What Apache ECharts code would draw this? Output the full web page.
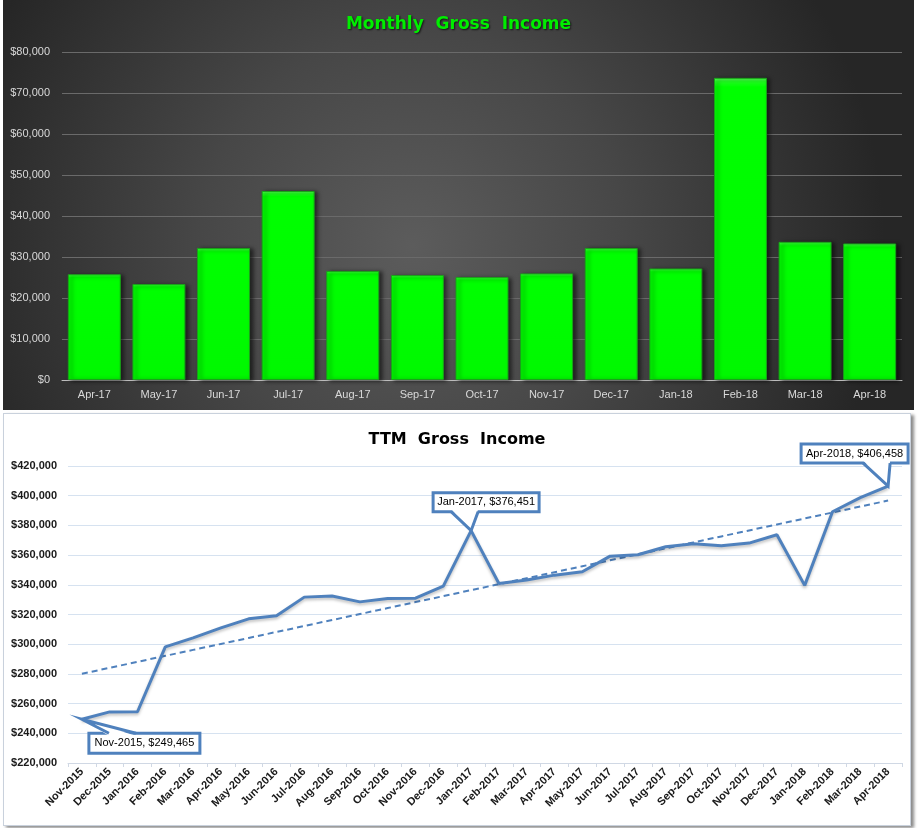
<!DOCTYPE html>
<html>
<head>
<meta charset="utf-8">
<script src="https://cdn.jsdelivr.net/npm/echarts@6/dist/echarts.min.js"></script>
<style>
  html, body { margin: 0; padding: 0; background: #ffffff; width: 921px; height: 828px; overflow: hidden; }
  #top { position: absolute; left: 3px; top: 0px; width: 911px; height: 410px; }
  #bottom { position: absolute; left: 3px; top: 413px; width: 906px; height: 411px; border: 1px solid #c9d1dc; box-shadow: 3px 2px 3px #8a8a8a; background: #fff; }
</style>
</head>
<body>
<div id="top"></div>
<div id="bottom"></div>
<script>
// ---------- Data: Monthly Gross Income ----------
const monthlyCategories = ['Apr-17','May-17','Jun-17','Jul-17','Aug-17','Sep-17','Oct-17','Nov-17','Dec-17','Jan-18','Feb-18','Mar-18','Apr-18'];
const monthlyValues = [25800, 23400, 32200, 46100, 26600, 25600, 25100, 26000, 32200, 27200, 73700, 33700, 33300];
const monthlyTicks = [0, 10000, 20000, 30000, 40000, 50000, 60000, 70000, 80000];

// ---------- Data: TTM Gross Income ----------
const ttmCategories = ['Nov-2015','Dec-2015','Jan-2016','Feb-2016','Mar-2016','Apr-2016','May-2016','Jun-2016','Jul-2016','Aug-2016','Sep-2016','Oct-2016','Nov-2016','Dec-2016','Jan-2017','Feb-2017','Mar-2017','Apr-2017','May-2017','Jun-2017','Jul-2017','Aug-2017','Sep-2017','Oct-2017','Nov-2017','Dec-2017','Jan-2018','Feb-2018','Mar-2018','Apr-2018'];
const ttmValues = [249465, 254400, 254500, 298200, 304300, 311000, 317100, 319100, 331700, 332400, 328500, 330800, 331000, 339100, 376451, 340900, 343200, 346500, 348800, 359300, 360200, 365600, 367600, 366300, 368100, 373700, 339600, 389200, 398700, 406458];
const ttmTicks = [220000, 240000, 260000, 280000, 300000, 320000, 340000, 360000, 380000, 400000, 420000];
const calloutMonths = ['Nov-2015', 'Jan-2017', 'Apr-2018'];

const money = v => '$' + Math.round(v).toLocaleString('en-US');

// Linear trendline (least squares) computed from the TTM data, like Excel's trendline
const n = ttmValues.length;
const mx = (n - 1) / 2;
const my = ttmValues.reduce((a, b) => a + b, 0) / n;
let sxy = 0, sxx = 0;
ttmValues.forEach((v, i) => { sxy += (i - mx) * (v - my); sxx += (i - mx) * (i - mx); });
const slope = sxy / sxx;
const intercept = my - slope * mx;
const trendValues = ttmValues.map((v, i) => intercept + slope * i);

// ---------- Top chart ----------
const topChart = echarts.init(document.getElementById('top'));
topChart.setOption({
  animation: false,
  backgroundColor: {
    type: 'radial', x: 0.45, y: 0.6, r: 1.15,
    colorStops: [{ offset: 0, color: '#5c5c5c' }, { offset: 0.45, color: '#474747' }, { offset: 1, color: '#262626' }]
  },
  title: {
    text: 'Monthly  Gross  Income',
    left: 'center', top: 11,
    textStyle: {
      fontFamily: 'DejaVu Sans', fontWeight: 'bold', fontSize: 17, color: '#00ee00',
      textShadowColor: 'rgba(0,0,0,0.7)', textShadowBlur: 2, textShadowOffsetX: 1, textShadowOffsetY: 1
    }
  },
  grid: { left: 59, right: 12, top: 52, bottom: 30 },
  xAxis: {
    type: 'category',
    data: monthlyCategories,
    axisLine: { lineStyle: { color: '#bdbdbd', width: 1 } },
    axisTick: { show: false },
    axisLabel: { color: '#d9d9d9', fontFamily: 'Liberation Sans', fontSize: 11, margin: 9 }
  },
  yAxis: {
    type: 'value',
    min: monthlyTicks[0], max: monthlyTicks[monthlyTicks.length - 1], interval: 10000,
    axisLine: { show: false },
    axisTick: { show: false },
    splitLine: { lineStyle: { color: '#6a6a6a', width: 1 } },
    axisLabel: { color: '#d9d9d9', fontFamily: 'Liberation Sans', fontSize: 11, margin: 12, formatter: money }
  },
  series: [{
    type: 'bar',
    data: monthlyValues,
    barCategoryGap: '18%',
    itemStyle: {
      color: {
        type: 'linear', x: 0, y: 0, x2: 0, y2: 1,
        colorStops: [{ offset: 0, color: '#5cff5c' }, { offset: 0.012, color: '#22ff22' }, { offset: 0.03, color: '#00ff00' }, { offset: 1, color: '#00f800' }]
      },
      borderColor: '#19a319', borderWidth: 1,
      shadowColor: 'rgba(0,0,0,0.55)', shadowBlur: 4, shadowOffsetX: 3, shadowOffsetY: 1
    }
  }]
});

// ---------- Bottom chart ----------
const calloutLayout = {
  'Nov-2015': { dx: 7, dy: 14, w: 111, h: 20, b1: 27, b2: 54, edge: 'top' },
  'Jan-2017': { dx: -38, dy: -38, w: 106, h: 19, b1: -20, b2: 7, edge: 'bottom' },
  'Apr-2018': { dx: -87, dy: -42, w: 107, h: 19, b1: -25, b2: 2, edge: 'bottom' }
};
const calloutData = calloutMonths.map(m => [m, ttmValues[ttmCategories.indexOf(m)]]);
const blue = '#4f81bd';

const bottomChart = echarts.init(document.getElementById('bottom'));
bottomChart.setOption({
  animation: false,
  backgroundColor: '#ffffff',
  title: {
    text: 'TTM  Gross  Income',
    left: 'center', top: 13,
    textStyle: { fontFamily: 'DejaVu Sans', fontWeight: 'bold', fontSize: 16, color: '#000000' }
  },
  grid: { left: 64, right: 8, top: 52, bottom: 62 },
  xAxis: {
    type: 'category',
    data: ttmCategories,
    axisLine: { lineStyle: { color: '#d0d8e4', width: 1 } },
    axisTick: { show: true, length: 4, lineStyle: { color: '#d0d8e4' } },
    axisLabel: { color: '#1a1a1a', fontFamily: 'Liberation Sans', fontWeight: 'bold', fontSize: 11, rotate: 45, margin: 7, interval: 0 }
  },
  yAxis: {
    type: 'value',
    min: ttmTicks[0], max: ttmTicks[ttmTicks.length - 1], interval: 20000,
    axisLine: { show: false },
    axisTick: { show: false },
    splitLine: { lineStyle: { color: '#d6e2f0', width: 1 } },
    axisLabel: { color: '#1a1a1a', fontFamily: 'Liberation Sans', fontWeight: 'bold', fontSize: 11, margin: 11, formatter: money }
  },
  series: [
    {
      type: 'line',
      data: trendValues,
      symbol: 'none',
      lineStyle: { color: blue, width: 2, type: [6, 4] },
      z: 2
    },
    {
      type: 'line',
      data: ttmValues,
      symbol: 'none',
      lineStyle: { color: blue, width: 3, shadowColor: 'rgba(0,0,0,0.25)', shadowBlur: 3, shadowOffsetY: 2 },
      z: 3
    },
    {
      type: 'custom',
      data: calloutData,
      z: 10,
      clip: false,
      renderItem: function (params, api) {
        const name = calloutMonths[params.dataIndex];
        const L = calloutLayout[name];
        const pt = api.coord([api.value(0), api.value(1)]);
        const bx = pt[0] + L.dx, by = pt[1] + L.dy;
        const edgeY = L.edge === 'top' ? by : by + L.h;
        const inside = L.edge === 'top' ? 2.5 : -2.5;
        const p1 = [pt[0] + L.b1, edgeY], p2 = [pt[0] + L.b2, edgeY];
        return {
          type: 'group',
          children: [
            { type: 'rect', shape: { x: bx, y: by, width: L.w, height: L.h }, style: { fill: '#ffffff', stroke: blue, lineWidth: 3 } },
            { type: 'polygon', shape: { points: [pt, [p1[0], edgeY + inside], [p2[0], edgeY + inside]] }, style: { fill: '#ffffff', stroke: null } },
            { type: 'polyline', shape: { points: [p1, pt, p2] }, style: { fill: null, stroke: blue, lineWidth: 3, lineJoin: 'miter' } },
            { type: 'text', x: bx + L.w / 2, y: by + L.h / 2,
              style: { text: name + ', ' + money(api.value(1)), fill: '#000000', font: '11px "Liberation Sans"', align: 'center', verticalAlign: 'middle' } }
          ]
        };
      }
    }
  ]
});
</script>
</body>
</html>
